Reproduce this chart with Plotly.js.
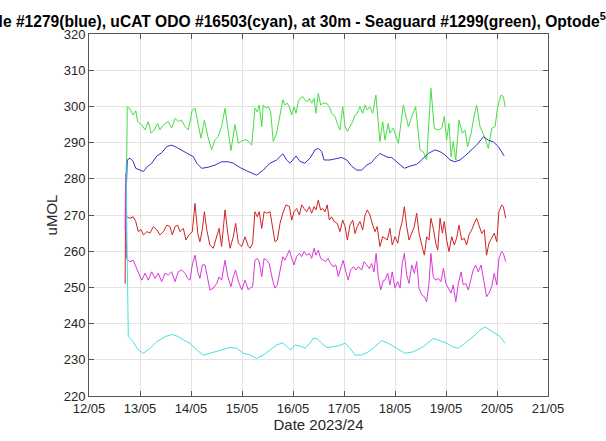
<!DOCTYPE html>
<html>
<head>
<meta charset="utf-8">
<script src="https://cdn.plot.ly/plotly-3.0.1.min.js"></script>
<style>html,body{margin:0;padding:0;background:#fff;} #chart{width:606px;height:441px;}</style>
</head>
<body>
<div id="chart"></div>
<script>
// Hours after 12/05 00:00, and readings (uMOL)
const greenH = [17.6,18.0,19.3,20.8,22.0,22.9,24.8,26.4,27.9,29.2,30.7,32.3,33.4,35.0,37.3,38.9,40.5,42.0,43.6,45.2,46.7,48.6,49.9,51.4,52.7,54.3,55.9,57.7,59.3,60.8,62.4,64.0,65.6,66.8,68.7,70.3,71.9,74.2,76.6,78.1,79.1,80.1,81.3,82.0,83.3,84.4,85.5,86.7,88.3,89.9,91.2,92.2,93.3,94.3,95.4,96.5,97.4,98.5,99.3,100.6,101.6,102.7,103.7,104.8,105.9,106.8,107.9,109.0,110.2,111.8,113.1,114.2,115.8,116.8,118.1,119.4,120.5,121.6,122.8,124.1,125.2,126.2,127.5,128.8,129.9,130.9,132.2,133.5,135.0,136.1,136.9,138.2,139.3,140.8,141.6,143.2,145.6,147.9,150.3,151.9,153.7,155.8,157.3,158.9,160.9,162.5,164.4,166.0,167.2,168.3,169.4,170.4,171.4,172.6,174.1,175.7,176.9,178.2,179.8,181.3,182.4,184.0,186.4,187.9,189.5,191.1,192.3,193.9,195.0,195.8];
const greenV = [277.0,299.9,299.3,297.6,298.8,295.8,294.9,293.5,295.8,292.6,293.5,295.3,293.5,294.9,295.8,294.0,296.7,295.8,296.2,294.4,293.5,299.0,299.5,295.3,291.2,296.2,291.7,288.0,290.8,291.7,294.4,299.5,293.5,287.8,295.0,289.8,290.5,290.8,289.3,299.5,298.5,300.4,294.4,300.4,299.5,300.0,298.5,290.3,292.6,298.1,301.8,300.4,300.9,299.9,297.6,299.9,298.1,301.3,302.2,302.7,301.8,301.3,302.2,300.9,302.2,298.1,303.6,300.4,300.9,300.9,299.9,298.1,297.2,295.3,293.5,299.9,294.4,293.1,294.4,295.8,297.6,298.1,299.9,298.1,300.4,299.0,299.9,298.1,303.1,295.3,290.3,295.8,290.7,295.3,292.6,294.0,289.8,300.4,294.4,297.2,299.9,288.0,287.5,285.2,305.0,293.9,293.5,293.9,297.2,290.7,295.3,286.1,290.3,285.2,296.2,292.6,293.5,288.9,292.6,297.6,300.4,294.4,291.2,288.4,293.9,294.4,299.9,303.1,302.7,299.9];

const blueH = [17.5,18.0,19.3,20.8,22.0,24.0,25.6,27.2,29.5,31.9,34.2,36.6,38.9,41.2,43.6,46.0,47.5,49.1,50.7,53.0,56.1,59.3,62.4,65.6,67.9,71.1,74.2,76.6,78.9,82.0,85.2,88.3,91.2,93.0,94.6,97.4,99.3,101.6,104.0,106.4,107.9,109.5,110.6,113.4,116.6,118.9,121.3,123.6,126.0,128.3,130.7,133.0,134.6,136.9,138.5,140.8,142.4,145.6,148.4,151.1,154.2,156.5,159.7,162.8,165.2,167.5,169.9,172.2,174.6,176.9,180.1,182.4,185.6,187.9,190.3,192.6,195.4];
const blueV = [276.0,285.2,285.7,284.8,282.9,282.4,282.0,283.2,284.3,286.3,287.2,288.9,289.3,288.7,287.8,287.1,286.6,286.1,284.3,282.9,283.2,283.8,284.7,284.7,284.3,283.1,282.2,281.5,281.0,282.4,284.3,285.2,286.9,285.2,284.3,286.3,284.8,284.3,285.7,288.0,288.4,287.5,285.2,285.2,285.7,285.9,285.2,283.5,282.4,282.4,283.8,284.5,285.7,287.0,286.5,285.9,285.9,284.3,282.9,283.5,284.0,285.2,287.0,288.0,287.5,286.6,285.2,284.7,285.2,286.3,288.0,289.3,291.6,290.7,290.2,288.9,286.3];

const redH = [17.0,17.3,17.7,19.3,20.8,22.0,23.2,24.5,25.6,27.2,28.7,30.3,31.9,33.4,35.0,36.6,38.1,39.2,40.5,41.7,42.8,44.4,45.6,47.1,48.6,49.9,51.2,52.2,53.3,54.3,55.4,56.9,58.5,60.1,61.2,62.4,64.0,65.3,66.4,67.9,69.0,70.3,71.9,73.4,75.0,75.8,77.0,78.1,79.2,80.1,81.3,82.4,83.6,85.2,86.4,87.5,88.6,89.9,91.2,92.7,94.3,95.4,96.5,97.7,99.0,100.1,101.2,102.4,103.7,104.8,105.9,106.8,107.9,109.0,110.0,111.1,112.1,113.1,114.2,115.3,116.8,118.1,119.4,120.5,121.6,122.8,124.1,125.2,126.2,127.5,128.8,129.9,131.0,132.2,133.5,134.6,135.6,136.9,138.2,139.3,140.4,141.6,142.7,144.0,145.3,146.4,147.4,148.4,149.5,150.6,151.9,153.1,154.2,155.3,156.6,157.8,158.9,160.0,160.9,162.0,163.2,164.1,165.2,166.3,167.2,168.3,169.4,170.7,171.9,173.0,174.1,175.4,176.6,177.7,178.8,180.1,181.3,182.4,183.5,184.8,186.0,187.1,188.2,189.5,190.7,191.9,192.9,194.2,195.0,196.1];
const redV = [251.0,280.0,269.5,269.1,269.5,268.2,265.4,266.0,264.5,265.4,265.0,266.8,265.9,264.5,265.4,267.2,266.8,264.5,266.8,267.2,265.4,266.3,263.1,264.5,265.4,273.2,264.9,262.6,265.9,270.9,265.9,261.7,260.8,264.0,266.3,261.3,271.4,265.0,260.8,264.0,267.7,262.2,261.3,264.0,261.3,260.8,262.2,270.9,269.5,270.9,266.3,270.9,270.5,270.9,266.8,262.6,263.1,267.7,270.5,272.8,272.3,268.6,270.9,271.8,270.0,272.8,271.8,270.9,272.3,270.5,272.3,271.4,274.1,271.4,271.8,270.9,272.8,268.6,269.5,268.2,267.7,265.4,268.6,266.8,263.1,267.2,268.6,264.9,266.8,268.2,265.9,270.0,271.4,270.0,267.2,265.4,266.8,261.3,264.0,263.5,263.1,266.3,261.7,264.0,262.2,266.0,268.2,272.3,266.8,263.1,265.0,266.8,270.5,265.0,261.7,258.9,264.0,263.1,269.1,266.3,262.2,260.3,269.1,265.0,268.2,263.1,259.9,264.0,261.7,263.6,267.2,263.1,263.6,261.7,264.5,265.9,267.7,269.1,267.2,264.9,265.9,258.9,262.2,263.6,265.0,262.6,270.9,272.8,272.3,269.1];

const magentaH = [17.0,17.2,17.7,19.3,20.8,22.0,23.2,24.8,26.4,27.9,29.5,31.1,32.6,34.2,35.8,37.3,38.9,40.5,42.0,43.6,45.2,46.4,47.5,48.6,49.9,51.2,52.2,53.3,54.6,55.9,56.9,58.5,60.1,61.2,62.4,64.0,65.3,66.8,67.9,69.0,70.3,71.9,73.4,75.0,75.8,77.0,78.1,79.2,80.1,81.3,82.4,83.6,84.8,86.4,87.5,88.6,89.9,91.2,92.2,93.3,94.3,95.4,96.5,97.7,99.0,100.1,101.2,102.4,103.7,104.8,105.9,106.8,107.9,109.0,110.2,111.4,112.5,113.7,114.9,116.2,117.3,118.4,119.6,120.9,122.0,123.1,124.4,125.6,126.7,128.3,129.4,130.7,131.9,133.0,134.1,135.1,136.1,137.3,138.5,139.3,140.6,141.6,142.7,144.0,145.3,146.4,147.4,148.4,149.5,150.6,151.9,153.1,154.2,155.3,156.6,157.8,158.9,160.0,160.9,162.0,163.2,164.4,165.6,166.8,167.9,169.1,170.4,171.4,172.6,173.8,175.1,176.1,177.3,178.5,179.8,180.8,181.9,183.2,184.5,185.6,187.1,188.2,189.5,190.7,191.9,192.9,194.2,195.0,196.1];
const magentaV = [266.0,281.5,258.0,257.1,257.5,255.7,254.3,252.0,253.9,252.0,254.3,252.5,253.9,251.6,253.9,253.4,254.3,251.6,254.3,254.8,253.9,252.5,252.0,256.2,258.9,254.3,252.5,256.2,256.2,252.5,249.3,249.8,251.1,252.9,252.0,257.5,253.0,250.2,253.0,254.8,251.6,249.3,252.0,249.3,249.8,250.2,257.5,258.0,257.1,253.0,258.0,257.5,256.6,252.0,249.8,250.7,254.8,258.5,257.5,258.9,260.3,258.0,256.2,258.5,259.4,258.5,259.9,258.9,259.4,258.0,260.8,258.9,260.3,258.0,257.5,257.1,258.0,256.6,255.7,256.2,253.0,255.2,257.5,254.3,252.0,254.8,255.7,254.8,255.7,254.8,257.1,256.2,255.2,256.6,254.3,259.4,253.0,249.3,252.0,252.0,253.9,250.7,254.3,249.8,251.6,249.8,256.7,259.4,253.4,251.1,256.2,253.9,257.1,249.8,247.9,247.4,246.0,251.1,259.4,253.0,252.0,252.5,251.6,255.3,251.1,249.8,248.4,250.7,246.0,251.1,254.3,250.7,251.1,249.3,252.5,254.8,256.2,254.3,256.2,252.0,247.4,248.4,250.2,253.9,250.7,258.0,259.9,259.4,257.1];

const cyanH = [17.4,18.5,20.8,23.2,25.6,28.7,31.9,35.8,38.9,41.2,44.4,47.5,50.7,53.8,56.9,61.6,66.4,69.5,72.6,75.8,78.9,82.0,85.2,88.3,91.2,93.0,94.9,96.9,99.3,101.6,104.0,105.6,107.6,109.5,111.9,115.0,118.1,120.5,122.8,125.2,128.3,131.4,133.8,137.7,140.8,144.8,148.7,152.6,157.3,162.0,165.2,168.3,171.4,173.8,176.9,180.8,184.0,186.4,188.7,191.1,193.4,195.8];
const cyanV = [284.0,236.4,235.0,232.7,231.8,233.2,235.0,236.4,237.0,236.6,235.5,234.6,232.7,231.3,231.8,232.7,233.4,233.2,231.8,231.3,230.4,231.3,232.7,234.1,234.7,233.6,232.7,234.1,233.8,233.2,234.6,236.0,235.7,234.6,233.4,233.6,234.0,234.6,233.2,231.3,231.3,232.2,233.2,235.3,234.6,233.2,231.8,232.2,233.6,235.9,235.3,234.6,233.5,233.2,234.6,236.4,238.2,239.1,238.2,237.3,236.4,234.6];

const xTickLabels = ['12/05','13/05','14/05','15/05','16/05','17/05','18/05','19/05','20/05','21/05'];
const yTicks = [220,230,240,250,260,270,280,290,300,310,320];

const base = Date.UTC(2024, 4, 12);
const toDate = h => h.map(v => base + v * 3600000);
const dayTicks = xTickLabels.map((_, i) => base + i * 86400000);

const series = [
  {h: greenH, v: greenV, c: '#45de45'},
  {h: blueH, v: blueV, c: '#3030c0'},
  {h: redH, v: redV, c: '#d02424'},
  {h: magentaH, v: magentaV, c: '#d838d8'},
  {h: cyanH, v: cyanV, c: '#40e2e2'}
];
const traces = series.map(s => ({
  x: toDate(s.h), y: s.v, type: 'scatter', mode: 'lines',
  line: {color: s.c, width: 1}, hoverinfo: 'skip', showlegend: false
}));

const FAM = 'Arial, "Liberation Sans", sans-serif';
const axFont = {family: FAM, size: 13, color: '#262626'};
const layout = {
  width: 606, height: 441,
  margin: {l: 89, r: 58, t: 34, b: 45, pad: 0},
  paper_bgcolor: '#ffffff', plot_bgcolor: '#ffffff',
  showlegend: false,
  xaxis: {
    type: 'date', range: [base, base + 9 * 86400000],
    tickmode: 'array', tickvals: dayTicks, ticktext: xTickLabels,
    ticks: 'inside', ticklen: 5, tickcolor: '#555', mirror: 'ticks',
    showline: true, linecolor: '#555', linewidth: 1,
    showgrid: true, gridcolor: '#e3e3e3', gridwidth: 1, zeroline: false,
    tickfont: axFont,
    title: {text: 'Date 2023/24', font: {family: FAM, size: 15, color: '#262626'}, standoff: 4}
  },
  yaxis: {
    range: [220, 320], tickmode: 'array', tickvals: yTicks, ticktext: yTicks.map(String),
    ticks: 'inside', ticklen: 5, tickcolor: '#555', mirror: 'ticks',
    showline: true, linecolor: '#555', linewidth: 1,
    showgrid: true, gridcolor: '#e3e3e3', gridwidth: 1, zeroline: false,
    tickfont: axFont,
    title: {text: 'uMOL', font: {family: FAM, size: 15, color: '#262626'}, standoff: 2}
  },
  annotations: [{
    xref: 'paper', yref: 'paper', x: 1.13, y: 1.038, xanchor: 'right', yanchor: 'middle',
    showarrow: false,
    text: '<b>Optode #1279(blue), uCAT ODO #16503(cyan), at 30m - Seaguard #1299(green), Optode<sup>5</sup></b>',
    font: {family: FAM, size: 15.6, color: '#000000'}
  }]
};

Plotly.newPlot('chart', traces, layout, {staticPlot: true, displayModeBar: false});
</script>
</body>
</html>
